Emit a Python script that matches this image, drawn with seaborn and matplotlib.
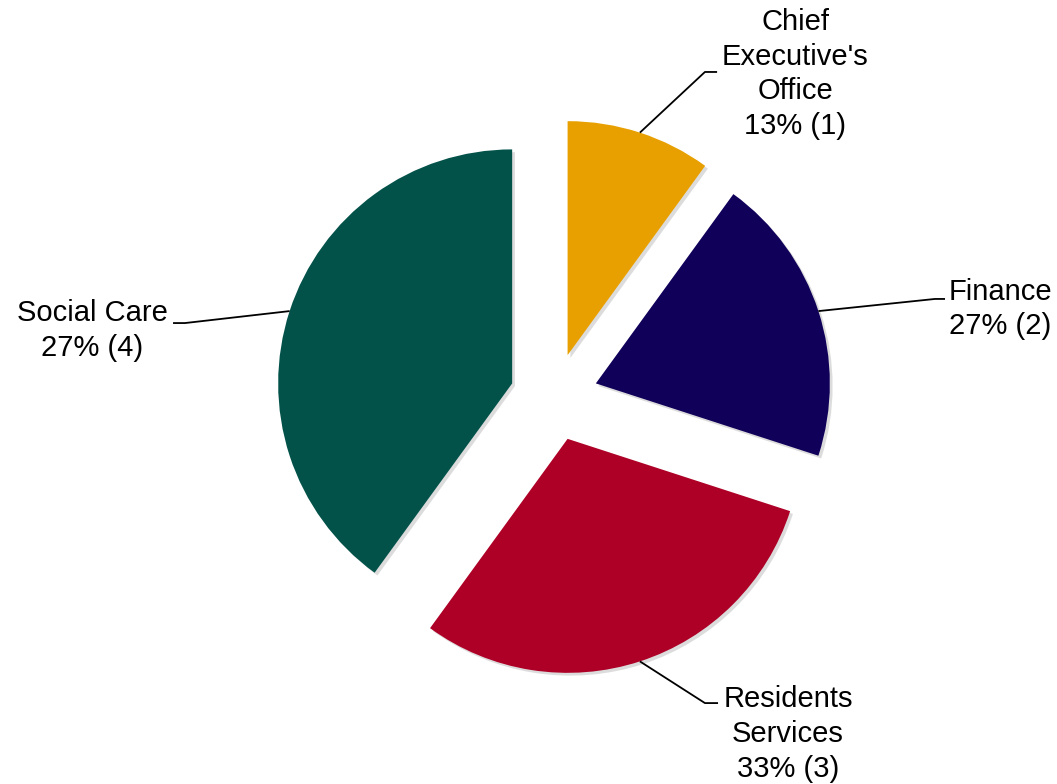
import numpy as np
import matplotlib
matplotlib.use("Agg")
import matplotlib.pyplot as plt
import matplotlib.patheffects as pe
import seaborn as sns

# ---- data ----
categories = ["Chief Executive's Office", "Finance", "Residents Services", "Social Care"]
values = [1, 2, 3, 4]
label_texts = ["Chief\nExecutive's\nOffice\n13% (1)",
               "Finance\n27% (2)",
               "Residents\nServices\n33% (3)",
               "Social Care\n27% (4)"]
colors = ["#E8A000", "#10005A", "#AE0026", "#02524A"]

sns.set_theme(style="white")
plt.rcParams['font.family'] = ['Liberation Sans', 'DejaVu Sans']

fig = plt.figure(figsize=(10.57, 7.84), dpi=100)
ax = fig.add_axes([0, 0, 1, 1])

explode = [0.188] * len(values)
wedges, _ = ax.pie(values, colors=colors, explode=explode, startangle=90,
                   counterclock=False, radius=1.0,
                   wedgeprops=dict(linewidth=0))
for w in wedges:
    w.set_path_effects([pe.SimplePatchShadow(offset=(2, -2), alpha=0.25, shadow_rgbFace='#777777'),
                        pe.Normal()])

ax.set_xlim(-554 / 234, (1057 - 554) / 234)
ax.set_ylim(-(784 - 397) / 234, 397 / 234)
ax.set_aspect('auto')
ax.axis('off')

# label layout: text centre and leader elbow (x_start, x_end, y)
text_pos = [(1.030, 1.380), (1.906, 0.376), (1.0, -1.440), (-1.974, 0.285)]
elbows = [((0.645, 0.697), 1.389), ((1.628, 1.671), 0.419),
          ((0.645, 0.701), -1.308), ((-1.577, -1.628), 0.316)]

for w, txt, (tx, ty), ((ex1, ex2), ey) in zip(wedges, label_texts, text_pos, elbows):
    ang = np.deg2rad((w.theta1 + w.theta2) / 2)
    cx, cy = w.center
    xm = cx + w.r * np.cos(ang)
    ym = cy + w.r * np.sin(ang)
    ax.plot([xm, ex1, ex2], [ym, ey, ey], color='black', lw=1.3,
            solid_capstyle='butt', zorder=3)
    ax.text(tx, ty, txt, ha='center', va='center', multialignment='center',
            fontsize=21, color='black', linespacing=1.3)

fig.savefig("out.png", dpi=100, facecolor='white')
